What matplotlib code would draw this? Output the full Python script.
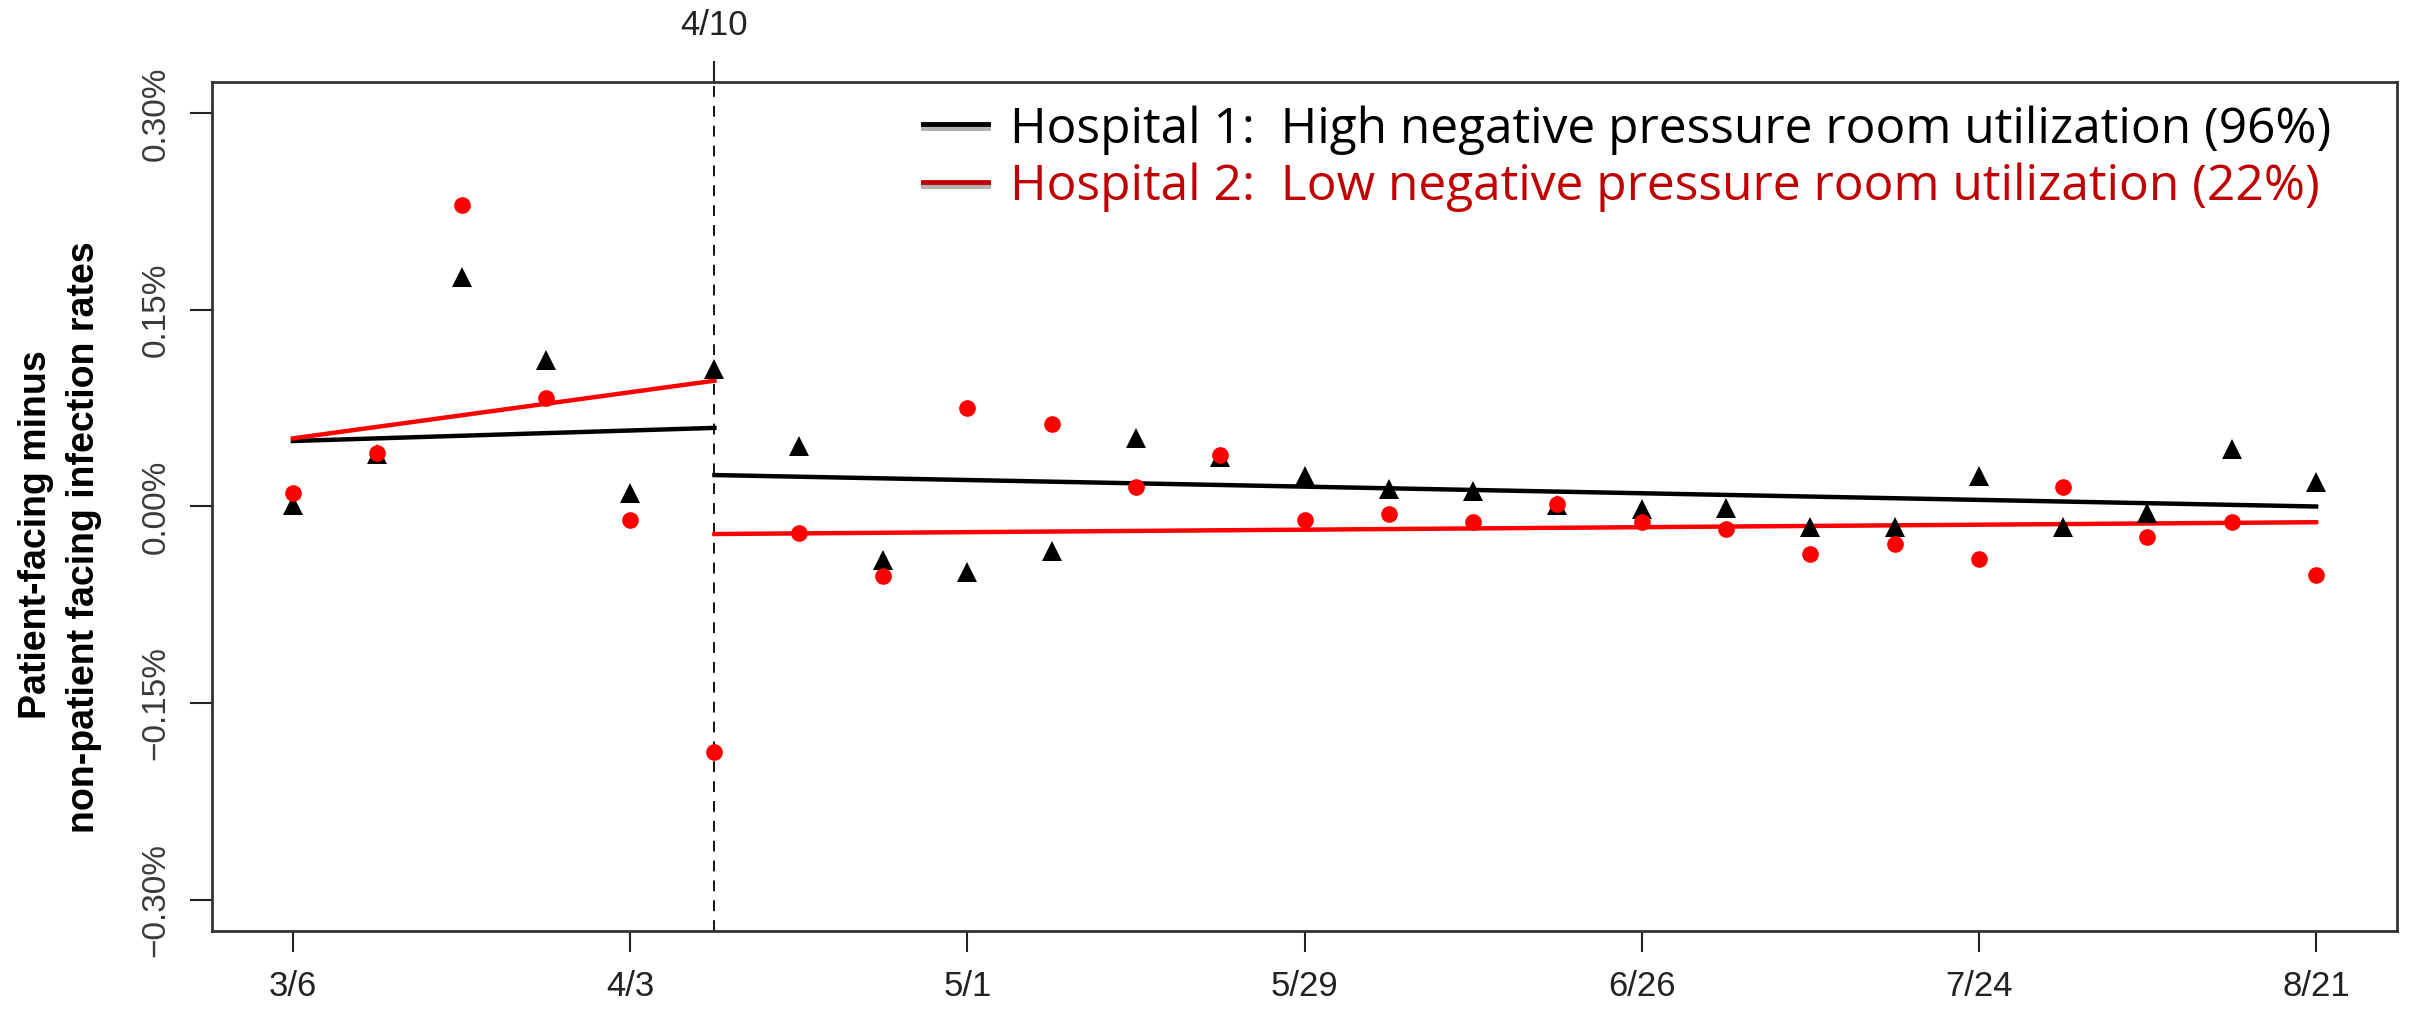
import matplotlib
matplotlib.use("Agg")
import matplotlib.pyplot as plt
from matplotlib.lines import Line2D
import numpy as np

# ---- data ----
weeks = list(range(25))
week_labels = ["3/6", "3/13", "3/20", "3/27", "4/3", "4/10", "4/17", "4/24", "5/1", "5/8",
               "5/15", "5/22", "5/29", "6/5", "6/12", "6/19", "6/26", "7/3", "7/10",
               "7/17", "7/24", "7/31", "8/7", "8/14", "8/21"]
hosp1 = [0.001, 0.040, 0.175, 0.112, 0.010, 0.105, 0.046, -0.041, -0.050, -0.034,
         0.052, 0.038, 0.023, 0.013, 0.012, 0.001, -0.002, -0.001, -0.016, -0.016,
         0.023, -0.016, -0.005, 0.044, 0.019]
hosp2 = [0.010, 0.041, 0.230, 0.083, -0.010, -0.187, -0.020, -0.053, 0.075, 0.063,
         0.015, 0.039, -0.010, -0.006, -0.012, 0.002, -0.012, -0.017, -0.036, -0.029,
         -0.040, 0.015, -0.023, -0.012, -0.052]
# fitted segment endpoints (pre / post 4/10)
seg_x_pre = [0, 5]
seg_x_post = [5, 24]
fit1_pre = [0.050, 0.060]
fit1_post = [0.024, 0.000]
fit2_pre = [0.052, 0.096]
fit2_post = [-0.021, -0.012]
xtick_pos = [0, 4, 8, 12, 16, 20, 24]
xtick_labels = ["3/6", "4/3", "5/1", "5/29", "6/26", "7/24", "8/21"]
ytick_pos = [-0.30, -0.15, 0.00, 0.15, 0.30]
break_week = 5
break_label = "4/10"
legend_labels = ["Hospital 1:  High negative pressure room utilization (96%)",
                 "Hospital 2:  Low negative pressure room utilization (22%)"]

W, H = 2409, 1013
fig = plt.figure(figsize=(W / 100, H / 100), dpi=100)
ax = fig.add_axes([212 / W, 1 - 931 / H, (2397 - 212) / W, (931 - 82) / H])

tickfont = ["Liberation Sans", "DejaVu Sans"]

ax.axvline(break_week, color="black", lw=1.3, ls=(0, (6, 5)), zorder=1)

ax.plot(seg_x_pre, fit1_pre, color="black", lw=3.2, zorder=2)
ax.plot(seg_x_post, fit1_post, color="black", lw=3.2, zorder=2)
ax.plot(seg_x_pre, fit2_pre, color="#ff0000", lw=3.2, zorder=2)
ax.plot(seg_x_post, fit2_post, color="#ff0000", lw=3.2, zorder=2)

ax.plot(weeks, hosp1, ls="none", marker="^", ms=14, color="black", mew=0, zorder=3)
ax.plot(weeks, hosp2, ls="none", marker="o", ms=12, color="#ff0000", mew=0, zorder=4)

ax.set_xlim(-0.96, 24.96)
ax.set_ylim(-0.324, 0.324)

ax.set_xticks(xtick_pos)
ax.set_xticklabels(xtick_labels, fontsize=25, family=tickfont, color="#222222")
ax.set_yticks(ytick_pos)
ax.set_yticklabels([("\u2212" if v < 0 else "") + f"{abs(v):.2f}%" for v in ytick_pos],
                   fontsize=24, family=tickfont, color="#3a3a3a", rotation=90, va="center")
ax.tick_params(axis="x", length=15, width=1.5, pad=13, color="#222222")
ax.tick_params(axis="y", length=16, width=1.5, pad=13, color="#222222")
for s in ax.spines.values():
    s.set_color("#333333")
    s.set_linewidth(2)

# secondary top tick for the break
sec = ax.secondary_xaxis("top")
sec.set_xticks([break_week])
sec.set_xticklabels([break_label], fontsize=25, family=tickfont, color="#222222")
sec.tick_params(length=15, width=1.5, pad=14, color="#222222")
for s in sec.spines.values():
    s.set_visible(False)

# y label
fig.text(36 / W, 1 - 535 / H, "Patient-facing minus", rotation=90, ha="center", va="center",
         fontsize=27, fontweight="bold", family=["Liberation Sans", "DejaVu Sans"])
fig.text(84 / W, 1 - 537 / H, "non-patient facing infection rates", rotation=90, ha="center",
         va="center", fontsize=27, fontweight="bold", family=["Liberation Sans", "DejaVu Sans"])

# legend (manual)
leg_colors = ["black", "#c00000"]
line_y = [124, 182]
base_y = [143, 200]
for lab, c, ly, by in zip(legend_labels, leg_colors, line_y, base_y):
    fig.add_artist(Line2D([923 / W, 988 / W], [1 - (ly + 4) / H] * 2, color="#b0b0b0",
                          lw=3.5, transform=fig.transFigure))
    fig.add_artist(Line2D([923 / W, 988 / W], [1 - ly / H] * 2, color=c,
                          lw=3.5, transform=fig.transFigure))
    fig.text(1010 / W, 1 - by / H, lab, color=c, fontsize=35.7, va="baseline", ha="left",
             family=["Open Sans", "DejaVu Sans"])

fig.savefig("out.png", dpi=100, facecolor="white")
